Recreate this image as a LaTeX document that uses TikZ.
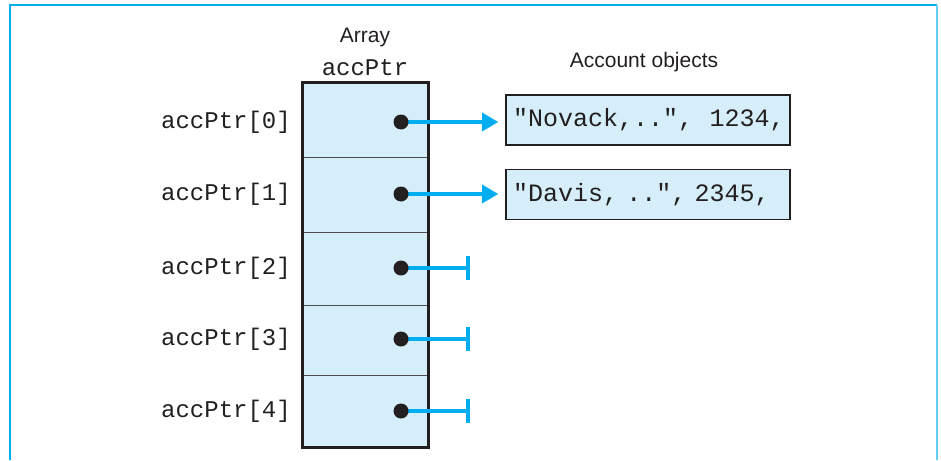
\documentclass[tikz,border=0pt]{standalone}
\usepackage{fontspec}
\setmainfont{Liberation Sans}
\newfontfamily\monofam{Liberation Mono}
\usetikzlibrary{arrows.meta}
\definecolor{cyanline}{RGB}{0,174,239}
\definecolor{cellfill}{RGB}{214,238,250}
\definecolor{ink}{RGB}{35,31,32}
\tikzset{
  cell/.style={draw=ink!80, line width=1.4pt, fill=cellfill, minimum width=125, inner sep=0, anchor=north west},
  dotnode/.style={circle, fill=ink, minimum size=15, inner sep=0},
  ptr/.style={cyanline, line width=3.2pt, -{Triangle[length=16pt,width=18pt]}},
  nullptr/.style={cyanline, line width=3.2pt},
  objbox/.style={draw=ink, line width=1.6pt, fill=cellfill, minimum height=50, text width=270, inner xsep=7, inner ysep=0, align=left, font=\monofam\fontsize{25}{28}\selectfont, text=ink},
  idx/.style={anchor=east, inner sep=0, font=\monofam\fontsize{24}{28}\selectfont, text=ink},
  title/.style={inner sep=0, font=\fontsize{21}{25}\selectfont, text=ink},
  frameline/.style={cyanline, line width=2.4pt}
}
\begin{document}
\begin{tikzpicture}[x=1pt,y=-1pt]
\useasboundingbox (0,0) rectangle (941,460);
% frame
\draw[frameline] (10,460) -- (10,5) -- (937,5);
\draw[cyanline!60, line width=1.2pt] (937,5) -- (937,460);
% titles
\node[title] (arr) at (365,37) {Array};
\node[inner sep=0, font=\monofam\fontsize{24}{28}\selectfont, text=ink] (arrname) at (365,68) {accPtr};
\node[title] (acc) at (644,62) {Account objects};
% array cells
\node[cell, minimum height=75] (c0) at (302,82) {};
\node[cell, minimum height=75] (c1) at (302,157) {};
\node[cell, minimum height=73] (c2) at (302,232) {};
\node[cell, minimum height=70] (c3) at (302,305) {};
\node[cell, minimum height=71] (c4) at (302,375) {};
\draw[ink, line width=3pt] (c0.north west) rectangle (c4.south east);
% labels
\node[idx] (l0) at (291,122) {accPtr[0]};
\node[idx] (l1) at (291,194) {accPtr[1]};
\node[idx] (l2) at (291,268) {accPtr[2]};
\node[idx] (l3) at (291,339) {accPtr[3]};
\node[idx] (l4) at (291,411) {accPtr[4]};
% objects
\node[objbox] (o0) at (648,120) {\mbox{"Novack,..",\ \ 1234,}};
\node[objbox] (o1) at (648,194.5) {\mbox{"Davis, ..", 2345,}};
% null ends
\coordinate (n2) at (468,268);
\coordinate (n3) at (468,339);
\coordinate (n4) at (468,411);
% pointers
\draw[ptr, shorten >=7pt] (401,122) coordinate (p0) -- (p0 -| o0.west);
\draw[ptr, shorten >=7pt] (401,194) coordinate (p1) -- (p1 -| o1.west);
\draw[nullptr] (401,268) coordinate (p2) -- (n2);
\draw[nullptr] (401,339) coordinate (p3) -- (n3);
\draw[nullptr] (401,411) coordinate (p4) -- (n4);
\foreach \n in {2,3,4}{
  \draw[nullptr] ([yshift=-12]n\n) -- ([yshift=12]n\n);
}
% dots
\foreach \i in {0,...,4}{
  \node[dotnode] (d\i) at (p\i) {};
}
\end{tikzpicture}
\end{document}
